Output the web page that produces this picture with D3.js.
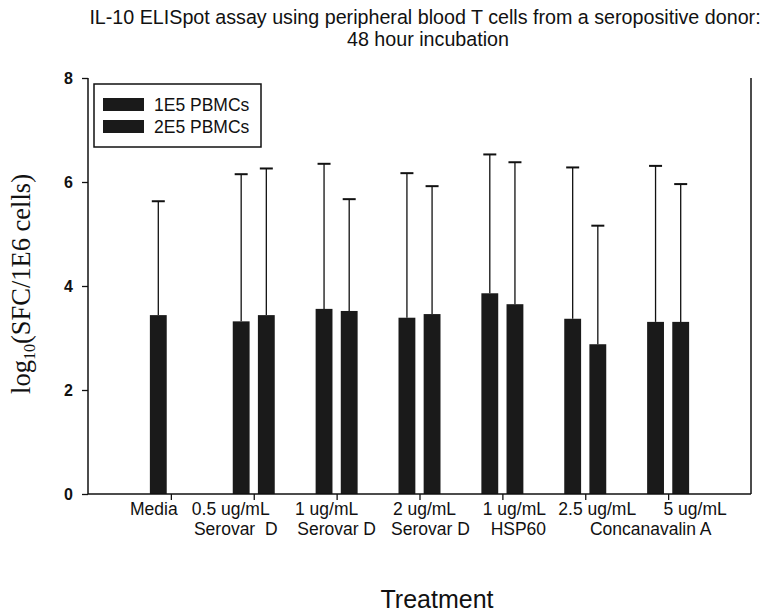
<!DOCTYPE html>
<html lang="en">
<head>
<meta charset="utf-8">
<style>
  body { margin: 0; background: #fff; }
  svg text { font-family: "Liberation Sans", Arial, sans-serif; fill: #111; }
  .bar { fill: #1a1a1a; }
  .err { stroke: #111; stroke-width: 1.3; fill: none; }
  .frame { stroke: #111; stroke-width: 1.5; fill: none; }
</style>
</head>
<body>
<script src="https://d3js.org/d3.v7.min.js"></script>
<script>
// categories (tick keys) and their printed labels
var categories = ["Media", "0.5 Serovar D", "1 Serovar D", "2 Serovar D", "1 HSP60", "2.5 ConA", "5 ConA"];
var labelTop = ["Media", "0.5 ug/mL", "1 ug/mL", "2 ug/mL", "1 ug/mL", "2.5 ug/mL", "5 ug/mL"];
var labelBottom = ["", "Serovar  D", "Serovar D", "Serovar D", "HSP60"];
var series = ["1E5 PBMCs", "2E5 PBMCs"];

// mean and upper error (mean + SD) per series, log10 SFC / 1E6 cells
var mean1E5 = [3.44, 3.32, 3.56, 3.39, 3.86, 3.37, 3.31];
var top1E5  = [5.63, 6.15, 6.35, 6.17, 6.53, 6.28, 6.31];
var mean2E5 = [null, 3.44, 3.52, 3.46, 3.65, 2.88, 3.31];
var top2E5  = [null, 6.26, 5.67, 5.92, 6.38, 5.16, 5.96];

var yTicks = [0, 2, 4, 6, 8];

// hand placement of the label lines relative to their tick
var shiftTop = [-17, -23, -10, 5, 12, 12, 27];
var shiftBottom = [0, -18, 0, 11, 16];

var W = 773, H = 614;
var m = {left: 88, right: 751, top: 78, bottom: 494};

var svg = d3.select("body").append("svg")
    .attr("width", W).attr("height", H);

var x = d3.scalePoint().domain(categories).range([m.left, m.right]).padding(1);
var xs = d3.scaleBand().domain(series).range([-21, 21]).paddingInner(0.33);
var y = d3.scaleLinear().domain([0, 8]).range([m.bottom, m.top]);

// title
svg.append("text").attr("x", 425).attr("y", 24).attr("text-anchor", "middle")
    .style("font-size", "19.7px")
    .text("IL-10 ELISpot assay using peripheral blood T cells from a seropositive donor:");
svg.append("text").attr("x", 428).attr("y", 46).attr("text-anchor", "middle")
    .style("font-size", "19.7px")
    .text("48 hour incubation");

// bars
var rows = [];
categories.forEach(function(c, i){
    rows.push({cat: c, s: series[0], v: mean1E5[i], e: top1E5[i]});
    rows.push({cat: c, s: series[1], v: mean2E5[i], e: top2E5[i]});
});
rows = rows.filter(function(d){ return d.v != null; });

function cx(d){ return x(d.cat) + xs(d.s) + xs.bandwidth() / 2; }

svg.selectAll("rect.bar").data(rows).enter().append("rect")
    .attr("class", "bar")
    .attr("x", function(d){ return x(d.cat) + xs(d.s); })
    .attr("width", xs.bandwidth())
    .attr("y", function(d){ return y(d.v); })
    .attr("height", function(d){ return y(0) - y(d.v); });

// upper error bars
var eg = svg.selectAll("g.errbar").data(rows).enter().append("g").attr("class", "errbar");
eg.append("line").attr("class", "err")
    .attr("x1", cx).attr("x2", cx)
    .attr("y1", function(d){ return y(d.v); })
    .attr("y2", function(d){ return y(d.e); });
eg.append("line").attr("class", "err").style("stroke-width", 2)
    .attr("x1", function(d){ return cx(d) - 6.5; })
    .attr("x2", function(d){ return cx(d) + 6.5; })
    .attr("y1", function(d){ return y(d.e); })
    .attr("y2", function(d){ return y(d.e); });

// y axis
var yAxis = svg.append("g").attr("transform", "translate(" + m.left + ",0)")
    .call(d3.axisLeft(y).tickValues(yTicks).tickSize(6).tickPadding(9));
yAxis.attr("font-size", 16).attr("font-weight", "bold");
yAxis.select(".domain").attr("stroke", "#111").attr("stroke-width", 1.5)
    .attr("d", "M0," + y(8) + "V" + y(0));
yAxis.selectAll(".tick line").attr("stroke", "#111").attr("stroke-width", 1.3);
yAxis.selectAll(".tick text").style("font-size", "16px").style("font-weight", "bold")
    .attr("fill", "#111");

// x axis
var xAxis = svg.append("g").attr("transform", "translate(0," + m.bottom + ")")
    .call(d3.axisBottom(x).tickSize(6).tickFormat(""));
xAxis.select(".domain").attr("stroke", "#111").attr("stroke-width", 1.5)
    .attr("d", "M" + m.left + ",0H" + m.right);
xAxis.selectAll(".tick line").attr("stroke", "#111").attr("stroke-width", 1.3);

// right frame line
svg.append("line").attr("class", "frame")
    .attr("x1", m.right).attr("x2", m.right).attr("y1", y(8)).attr("y2", y(0));

// tick labels, two lines
svg.selectAll("text.lab1").data(labelTop).enter().append("text")
    .attr("class", "lab1")
    .attr("x", function(d, i){ return x(categories[i]) + shiftTop[i]; })
    .attr("y", 515).attr("text-anchor", "middle")
    .style("font-size", "17.5px")
    .text(function(d){ return d; });
svg.selectAll("text.lab2").data(labelBottom).enter().append("text")
    .attr("class", "lab2")
    .attr("x", function(d, i){ return x(categories[i]) + shiftBottom[i]; })
    .attr("y", 535).attr("text-anchor", "middle")
    .style("font-size", "17.5px")
    .style("white-space", "pre")
    .text(function(d){ return d; });
svg.append("text")
    .attr("x", (x(categories[5]) + x(categories[6])) / 2 + 24)
    .attr("y", 535).attr("text-anchor", "middle")
    .style("font-size", "17.5px")
    .text("Concanavalin A");

// axis titles
svg.append("text").attr("x", 437).attr("y", 608).attr("text-anchor", "middle")
    .style("font-size", "25px")
    .text("Treatment");

var yl = svg.append("text")
    .attr("transform", "translate(30,284) rotate(-90)")
    .attr("text-anchor", "middle")
    .style("font-family", "'Liberation Serif', 'Times New Roman', serif")
    .style("font-size", "26.5px");
yl.append("tspan").text("log");
yl.append("tspan").attr("dy", 5).style("font-size", "16px").text("10");
yl.append("tspan").attr("dy", -5).text("(SFC/1E6 cells)");

// legend
var lg = svg.append("g").attr("transform", "translate(94,84)");
lg.append("rect").attr("width", 167).attr("height", 63)
    .attr("fill", "#fff").attr("stroke", "#111").attr("stroke-width", 1.5);
lg.selectAll("g.item").data(series).enter().append("g")
    .attr("class", "item")
    .attr("transform", function(d, i){ return "translate(9," + (14 + i * 22) + ")"; })
    .each(function(d){
        var g = d3.select(this);
        g.append("rect").attr("class", "bar").attr("width", 41).attr("height", 13);
        g.append("text").attr("x", 51).attr("y", 13)
            .style("font-size", "17.5px").text(d);
    });
</script>
</body>
</html>
